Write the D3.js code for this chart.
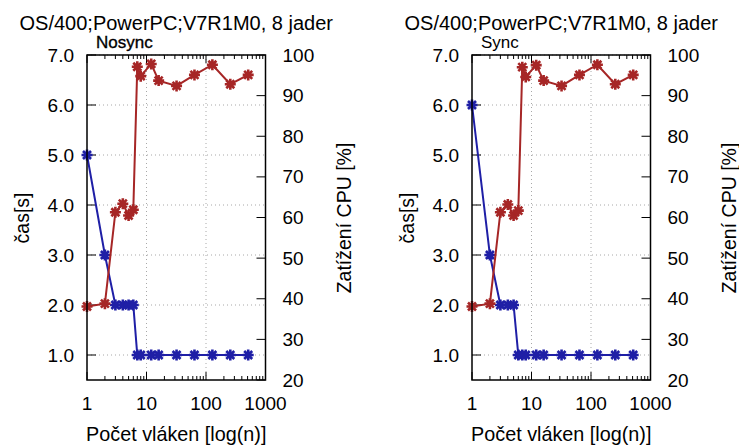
<!DOCTYPE html>
<html><head><meta charset="utf-8">
<script src="https://cdn.jsdelivr.net/npm/d3@7"></script>
<style>body{margin:0;background:#fff}svg{display:block}text{font-family:"Liberation Sans",Arial,sans-serif;fill:#000}</style>
</head><body>
<svg id="c" width="739" height="445"></svg>
<script>
const title = "OS/400;PowerPC;V7R1M0, 8 jader";
const panelNames = ["Nosync", "Sync"];
const threads = [1, 2, 3, 4, 5, 6, 7, 8, 12, 16, 32, 64, 128, 256, 512];
const timeNosync = [5.0, 3.0, 2.0, 2.0, 2.0, 2.0, 1.0, 1.0, 1.0, 1.0, 1.0, 1.0, 1.0, 1.0, 1.0];
const cpuNosync = [38.1, 38.8, 61.3, 63.4, 60.5, 61.9, 97.1, 94.8, 97.8, 93.7, 92.4, 95.1, 97.6, 92.8, 95.1];
const timeSync = [6.0, 3.0, 2.0, 2.0, 2.0, 1.0, 1.0, 1.0, 1.0, 1.0, 1.0, 1.0, 1.0, 1.0, 1.0];
const cpuSync = [38.1, 38.8, 61.3, 63.2, 60.5, 61.7, 97.0, 94.6, 97.5, 93.7, 92.4, 95.1, 97.6, 92.8, 95.1];
const xTicks = [1, 10, 100, 1000];
const yTicks = [1, 2, 3, 4, 5, 6, 7];
const y2Ticks = [20, 30, 40, 50, 60, 70, 80, 90, 100];
const xLabel = "Počet vláken [log(n)]";
const yLabel = "čas[s]";
const y2Label = "Zatížení CPU [%]";

(function () {
const BLUE = "#1f1fa6", RED = "#a62626";
const svg = d3.select("#c");
const panels = [
  {left: 87, name: panelNames[0], time: timeNosync, cpu: cpuNosync},
  {left: 472, name: panelNames[1], time: timeSync, cpu: cpuSync}
];
const W = 178.5, pTop = 55, pBot = 380;
const star = "M-5.5,0H5.5M0,-5.5V5.5M-4,-4L4,4M-4,4L4,-4";

panels.forEach(p => {
  const g = svg.append("g");
  const x = d3.scaleLog().domain([1, 1000]).range([p.left, p.left + W]);
  const y = d3.scaleLinear().domain([0.5, 7]).range([pBot, pTop]);
  const y2 = d3.scaleLinear().domain([20, 100]).range([pBot, pTop]);
  const minor = [];
  [1, 10, 100].forEach(d => { for (let k = 2; k <= 9; k++) minor.push(d * k); });

  g.selectAll(".gy").data(yTicks).join("line")
    .attr("x1", p.left).attr("x2", p.left + W).attr("y1", d => y(d)).attr("y2", d => y(d))
    .attr("stroke", "#a8a8a8").attr("stroke-width", 1).attr("stroke-dasharray", "1,3");
  g.selectAll(".gx").data([10, 100]).join("line")
    .attr("x1", d => x(d)).attr("x2", d => x(d)).attr("y1", pTop).attr("y2", pBot)
    .attr("stroke", "#a8a8a8").attr("stroke-width", 1).attr("stroke-dasharray", "1,3");

  const tk = g.append("g").attr("stroke", "#000").attr("stroke-width", 1);
  xTicks.forEach(d => {
    tk.append("line").attr("x1", x(d)).attr("x2", x(d)).attr("y1", pBot).attr("y2", pBot - 8);
    tk.append("line").attr("x1", x(d)).attr("x2", x(d)).attr("y1", pTop).attr("y2", pTop + 8);
  });
  minor.forEach(d => {
    tk.append("line").attr("x1", x(d)).attr("x2", x(d)).attr("y1", pBot).attr("y2", pBot - 4);
    tk.append("line").attr("x1", x(d)).attr("x2", x(d)).attr("y1", pTop).attr("y2", pTop + 4);
  });
  yTicks.forEach(d => tk.append("line").attr("x1", p.left).attr("x2", p.left + 9).attr("y1", y(d)).attr("y2", y(d)));
  y2Ticks.forEach(d => tk.append("line").attr("x1", p.left + W).attr("x2", p.left + W - 9).attr("y1", y2(d)).attr("y2", y2(d)));

  g.selectAll(".xl").data(xTicks).join("text")
    .attr("x", d => x(d)).attr("y", 410).attr("text-anchor", "middle").attr("font-size", 19).text(d => d);
  g.selectAll(".yl").data(yTicks).join("text")
    .attr("x", p.left - 13).attr("y", d => y(d) + 6.5).attr("text-anchor", "end").attr("font-size", 19).text(d3.format(".1f"));
  g.selectAll(".y2l").data(y2Ticks).join("text")
    .attr("x", p.left + W + 17).attr("y", d => y2(d) + 6.5).attr("text-anchor", "start").attr("font-size", 19).text(d => d);

  const lineT = d3.line().x((d, i) => x(threads[i])).y(d => y(d));
  const lineC = d3.line().x((d, i) => x(threads[i])).y(d => y2(d));
  g.append("path").attr("d", lineT(p.time)).attr("fill", "none").attr("stroke", BLUE).attr("stroke-width", 2);
  g.selectAll(".mt").data(p.time).join("path")
    .attr("transform", (d, i) => `translate(${x(threads[i])},${y(d)})`).attr("d", star)
    .attr("stroke", BLUE).attr("stroke-width", 2.6).attr("fill", "none");
  g.append("path").attr("d", lineC(p.cpu)).attr("fill", "none").attr("stroke", RED).attr("stroke-width", 2);
  g.selectAll(".mc").data(p.cpu).join("path")
    .attr("transform", (d, i) => `translate(${x(threads[i])},${y2(d)})`).attr("d", star)
    .attr("stroke", RED).attr("stroke-width", 2.6).attr("fill", "none");

  g.append("rect").attr("x", p.left).attr("y", pTop).attr("width", W).attr("height", pBot - pTop)
    .attr("fill", "none").attr("stroke", "#000").attr("stroke-width", 1.5);

  const cx = p.left + W / 2;
  g.append("text").attr("x", cx).attr("y", 30).attr("text-anchor", "middle").attr("font-size", 20).text(title);
  g.append("text").attr("x", p.left + 9).attr("y", 48).attr("font-size", 17)
    .attr("stroke", p.name === "Nosync" ? "#000" : "none").attr("stroke-width", 0.35).text(p.name);
  g.append("text").attr("x", cx).attr("y", 441).attr("text-anchor", "middle").attr("font-size", 19.8).text(xLabel);
  g.append("text").attr("transform", `translate(${p.left - 58},218) rotate(-90)`)
    .attr("text-anchor", "middle").attr("font-size", 19.5).text(yLabel);
  g.append("text").attr("transform", `translate(${p.left + W + 85},218) rotate(-90)`)
    .attr("text-anchor", "middle").attr("font-size", 19.5).text(y2Label);
});
})();
</script>
</body></html>
